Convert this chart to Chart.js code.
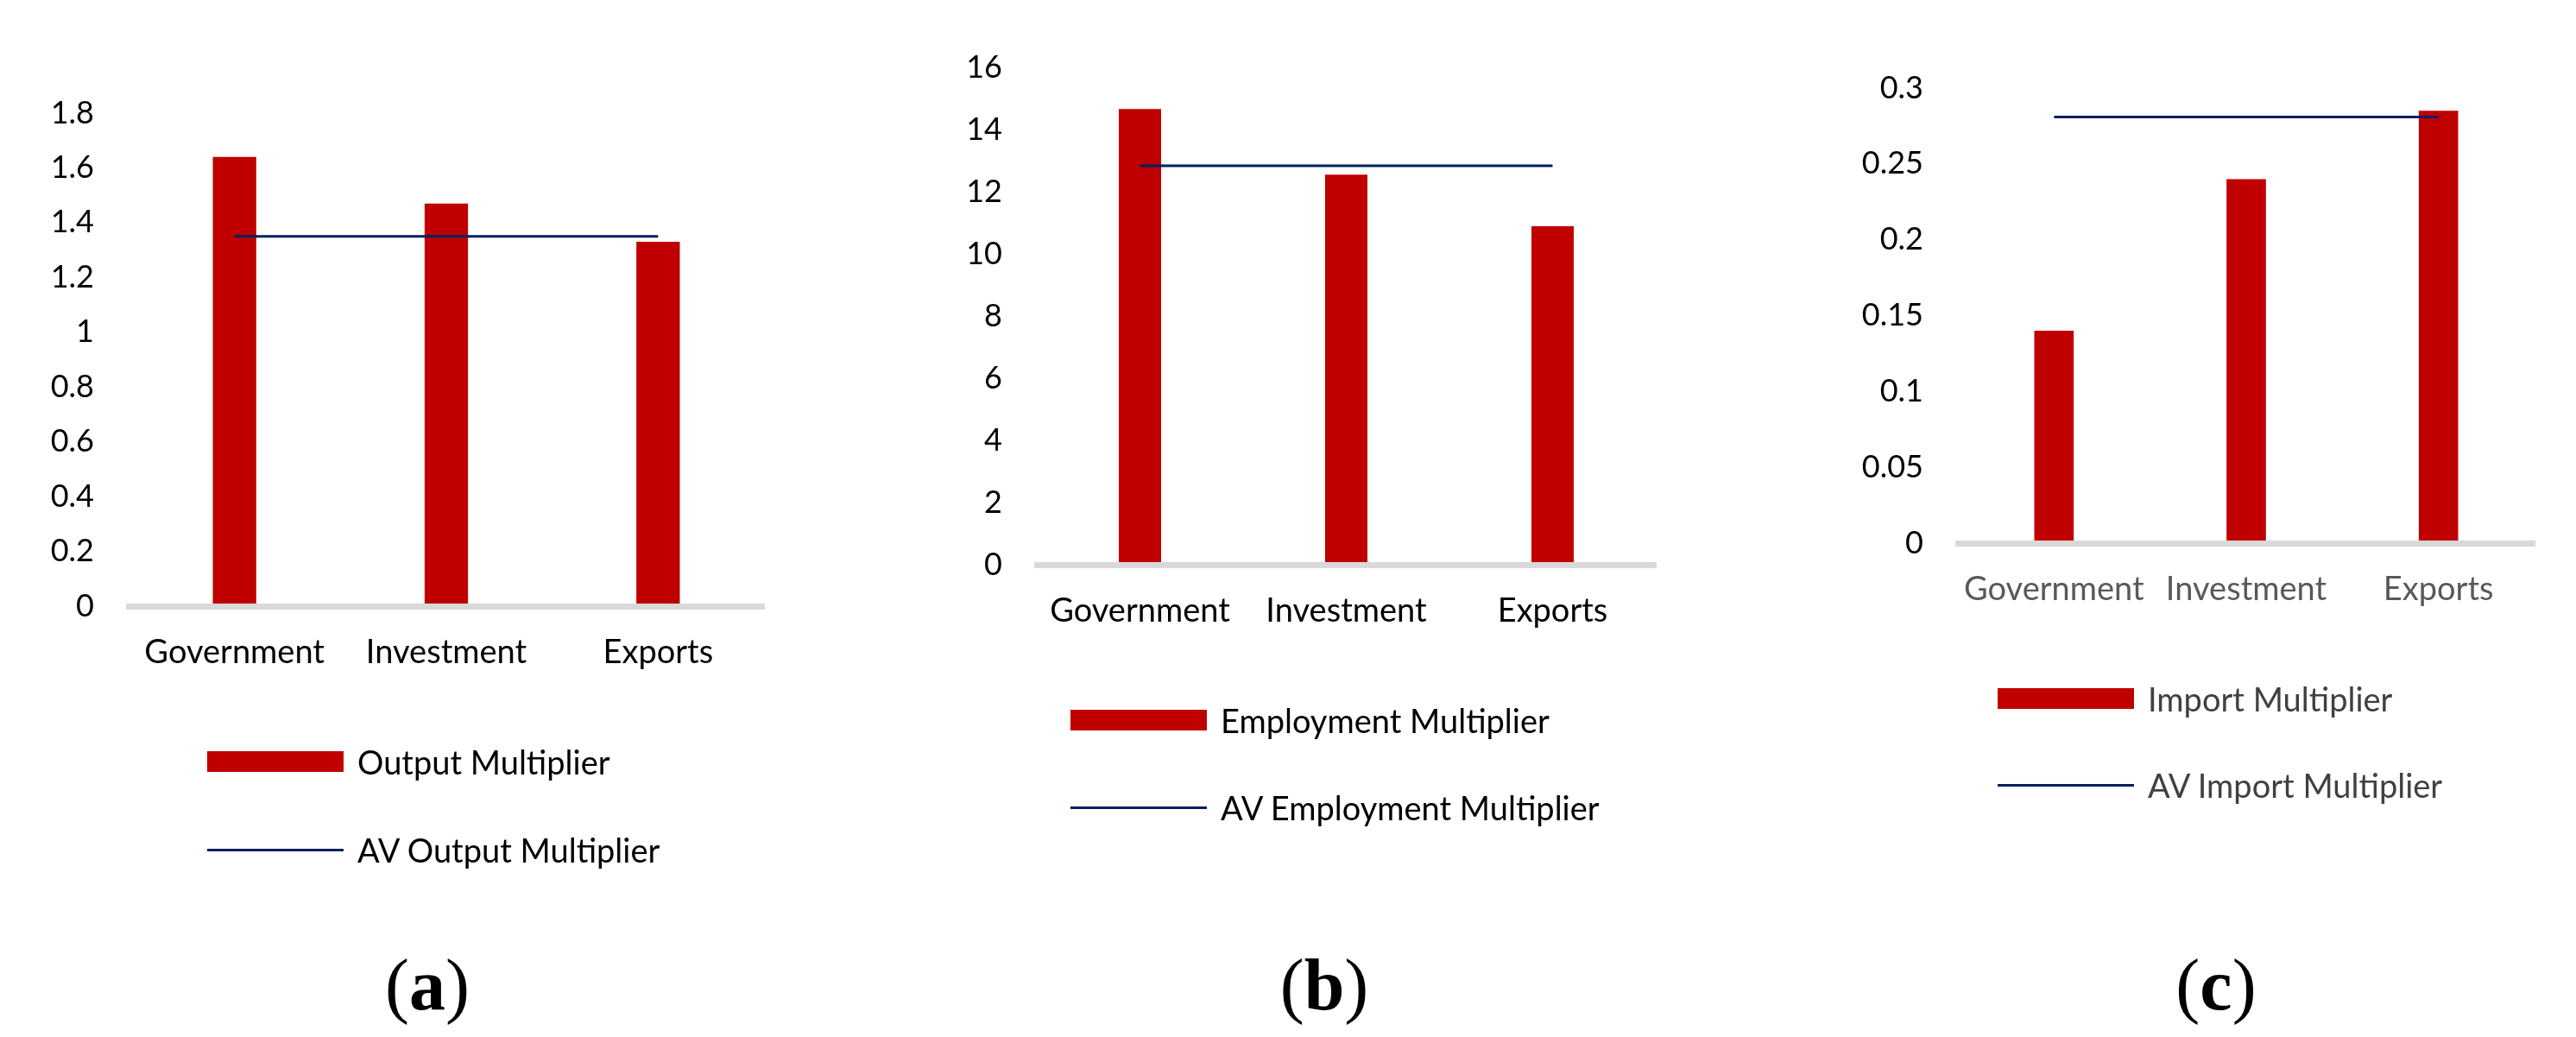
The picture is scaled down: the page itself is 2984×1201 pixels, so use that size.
<!DOCTYPE html>
<html>
<head>
<meta charset="utf-8">
<script src="https://cdn.jsdelivr.net/npm/chart.js@4.4.1/dist/chart.umd.min.js"></script>
<style>
  html, body { margin: 0; padding: 0; background: #fff; }
  body { width: 2984px; height: 1201px; position: relative; overflow: hidden; font-family: Lato, "Open Sans", sans-serif; }
  canvas { position: absolute; left: 0; top: 0; }
  .leg { position: absolute; display: flex; align-items: center; height: 44px; font-size: 38px; white-space: nowrap; }
  .leg .sw { display: inline-block; width: 158px; margin-right: 16px; }
  .cap { position: absolute; transform: translate(-50%, -50%); font-family: "Liberation Serif", "Times New Roman", serif; font-size: 84px; }
</style>
</head>
<body>
<script>
const categories = ["Government", "Investment", "Exports"];

const outputMultiplier = [1.64, 1.47, 1.33];
const avOutputMultiplier = [1.35, 1.35, 1.35];
const outputTicks = [0, 0.2, 0.4, 0.6, 0.8, 1, 1.2, 1.4, 1.6, 1.8];

const employmentMultiplier = [14.66, 12.55, 10.89];
const avEmploymentMultiplier = [12.83, 12.83, 12.83];
const employmentTicks = [0, 2, 4, 6, 8, 10, 12, 14, 16];

const importMultiplier = [0.14, 0.24, 0.285];
const avImportMultiplier = [0.281, 0.281, 0.281];
const importTicks = [0, 0.05, 0.1, 0.15, 0.2, 0.25, 0.3];

const W = 2984, H = 1201;
const RED = "#c00000";
const NAVY = "#002060";
const FONT = "Lato, 'Open Sans', sans-serif";

const panels = [
  {
    letter: "a", barLabel: "Output Multiplier", lineLabel: "AV Output Multiplier",
    values: outputMultiplier, avg: avOutputMultiplier, ticks: outputTicks,
    left: 149, right: 885, top: 131, bottom: 702,
    catColor: "#000", legColor: "#000",
    legX: 240, legY: [882, 984], capX: 495
  },
  {
    letter: "b", barLabel: "Employment Multiplier", lineLabel: "AV Employment Multiplier",
    values: employmentMultiplier, avg: avEmploymentMultiplier, ticks: employmentTicks,
    left: 1201, right: 1918, top: 78, bottom: 654,
    catColor: "#000", legColor: "#000",
    legX: 1240, legY: [834, 935], capX: 1534
  },
  {
    letter: "c", barLabel: "Import Multiplier", lineLabel: "AV Import Multiplier",
    values: importMultiplier, avg: avImportMultiplier, ticks: importTicks,
    left: 2268, right: 2936, top: 102, bottom: 629,
    catColor: "#595959", legColor: "#404040",
    legX: 2314, legY: [809, 909], capX: 2567
  }
];

function drawPanel(p) {
  const canvas = document.createElement("canvas");
  canvas.width = W;
  canvas.height = H;
  canvas.style.width = W + "px";
  canvas.style.height = H + "px";
  document.body.appendChild(canvas);

  const chart = new Chart(canvas, {
    type: "bar",
    data: {
      labels: categories,
      datasets: [
        {
          type: "line",
          label: p.lineLabel,
          data: p.avg,
          borderColor: NAVY,
          borderWidth: 3,
          pointRadius: 0,
          fill: false,
          order: 0
        },
        {
          label: p.barLabel,
          data: p.values,
          backgroundColor: RED,
          barPercentage: 0.205,
          categoryPercentage: 1,
          order: 1
        }
      ]
    },
    options: {
      responsive: false,
      animation: false,
      devicePixelRatio: 1,
      layout: { padding: { left: 0, top: p.top, right: W - p.right, bottom: 0 } },
      plugins: { legend: { display: false }, tooltip: { enabled: false } },
      scales: {
        x: {
          grid: { display: false, drawTicks: false },
          border: { display: true, color: "#d9d9d9", width: 7, z: 1 },
          ticks: {
            color: p.catColor,
            font: { family: FONT, size: 38 },
            padding: 31,
            maxRotation: 0,
            autoSkip: false
          },
          afterFit: s => { s.height = H - p.bottom; }
        },
        y: {
          min: 0,
          max: p.ticks[p.ticks.length - 1],
          grid: { display: false, drawTicks: false },
          border: { display: false },
          ticks: {
            color: "#000",
            font: { family: FONT, size: 36 },
            padding: 40,
            callback: v => String(v)
          },
          afterBuildTicks: s => { s.ticks = p.ticks.map(v => ({ value: v })); },
          afterFit: s => { s.width = p.left; }
        }
      }
    }
  });

  // legend: bar item first, then the average line
  const items = [chart.data.datasets[1], chart.data.datasets[0]];
  items.forEach((ds, i) => {
    const leg = document.createElement("div");
    leg.className = "leg";
    leg.style.left = p.legX + "px";
    leg.style.top = (p.legY[i] - 22) + "px";
    leg.style.color = p.legColor;
    const sw = document.createElement("span");
    sw.className = "sw";
    if (ds.type === "line") {
      sw.style.height = ds.borderWidth + "px";
      sw.style.background = ds.borderColor;
    } else {
      sw.style.height = "24px";
      sw.style.background = ds.backgroundColor;
    }
    leg.appendChild(sw);
    leg.appendChild(document.createTextNode(ds.label));
    document.body.appendChild(leg);
  });

  const cap = document.createElement("div");
  cap.className = "cap";
  cap.style.left = p.capX + "px";
  cap.style.top = "1140px";
  cap.innerHTML = "(<b>" + p.letter + "</b>)";
  document.body.appendChild(cap);
}

panels.forEach(drawPanel);
</script>
</body>
</html>
